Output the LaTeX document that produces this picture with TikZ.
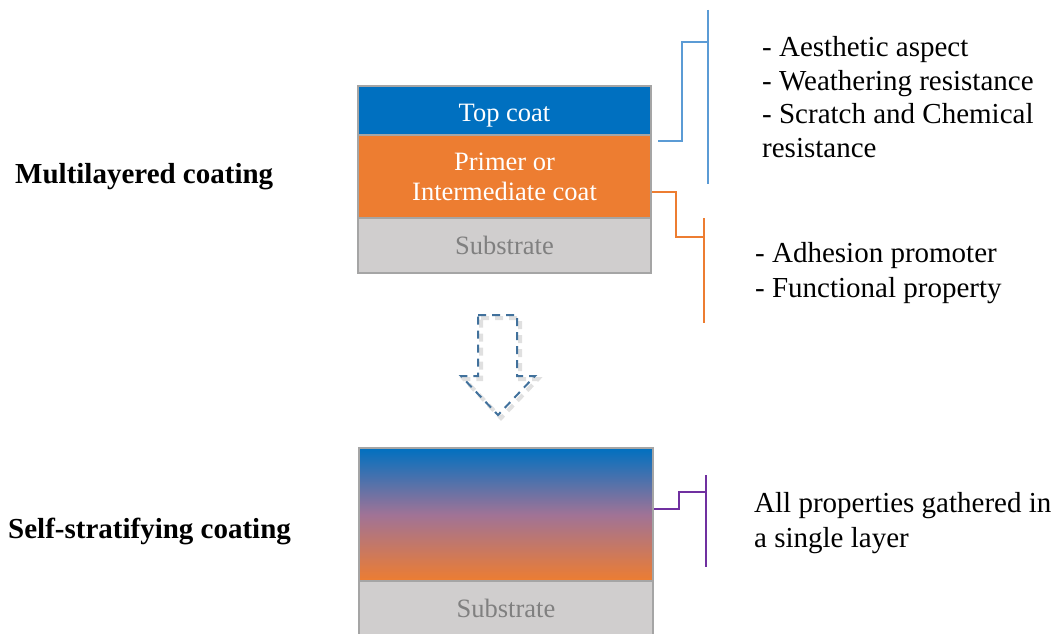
\documentclass[tikz,border=0pt]{standalone}
\usepackage{fontspec}
\IfFontExistsTF{LiberationSerif-Regular.ttf}
  {\setmainfont{LiberationSerif-Regular.ttf}[BoldFont=LiberationSerif-Bold.ttf]}
  {\setmainfont{Liberation Serif}}
\definecolor{topblue}{HTML}{0070C0}
\definecolor{primerorange}{HTML}{ED7D31}
\definecolor{subgray}{HTML}{D0CECE}
\definecolor{subtext}{HTML}{808080}
\definecolor{bordergray}{HTML}{A5A5A5}
\definecolor{bracketblue}{HTML}{5B9BD5}
\definecolor{bracketpurple}{HTML}{7030A0}
\definecolor{arrowblue}{HTML}{41719C}
\definecolor{midmauve}{RGB}{160,115,150}
\begin{document}
\begin{tikzpicture}[x=1pt,y=-1pt,
  layer/.style={draw=bordergray, line width=2pt, minimum width=293pt, inner sep=0pt,
    anchor=north west, text=white, align=center, font=\fontsize{26.5}{30}\selectfont},
  sublayer/.style={layer, fill=subgray, text=subtext},
  title/.style={font=\fontsize{29}{34}\selectfont\bfseries, anchor=base west, inner sep=0pt},
  note/.style={align=left, anchor=base west, inner sep=0pt},
  bracket/.style={line width=2.2pt},
  flowarrow/.style={draw=arrowblue, line width=2pt, dash pattern=on 8pt off 6pt, line join=miter},
  arrowshadow/.style={draw=black, opacity=0.12, line width=4pt, dash pattern=on 8pt off 6pt}]
\useasboundingbox (0,0) rectangle (1060,634);
\clip (0,0) rectangle (1060,634);
\fill[white] (0,0) rectangle (1060,634);

% ---- multilayered stack ----
\node[layer, fill=topblue, minimum height=49pt] (top) at (357,85) {};
\node[text=white, font=\fontsize{26.5}{30}\selectfont, anchor=base, inner sep=0pt] (toplabel) at (top.center |- 0,121) {Top coat};
\node[layer, fill=primerorange, minimum height=83pt] (primer) at (357,134) {Primer or\\Intermediate coat};
\node[sublayer, minimum height=55pt] (sub1) at (357,217) {};
\node[text=subtext, font=\fontsize{26.5}{30}\selectfont, anchor=base, inner sep=0pt] (sub1label) at (sub1.center |- 0,254) {Substrate};

% ---- self-stratifying stack ----
\node[layer, top color=topblue, bottom color=primerorange, middle color=midmauve,
      minimum height=133pt, minimum width=294pt] (grad) at (358,447) {};
\node[sublayer, minimum height=55pt, minimum width=294pt] (sub2) at (358,580) {Substrate};

% ---- titles ----
\node[title] (t1) at (15,183) {Multilayered coating};
\node[title] (t2) at (8,538) {Self-stratifying coating};

% ---- notes (anchored at the baseline of the last line) ----
\node[note, font=\fontsize{29}{33.5}\selectfont] (n1) at (762,157) {- Aesthetic aspect\\- Weathering resistance\\- Scratch and Chemical\\resistance};
\node[note, font=\fontsize{29}{35}\selectfont] (n2) at (755,297) {- Adhesion promoter\\- Functional property};
\node[note, font=\fontsize{29}{35}\selectfont] (n3) at (754,547) {All properties gathered in\\a single layer};

% ---- brackets ----
\coordinate (b1s) at (658,141);
\coordinate (b1t) at (708,10);
\coordinate (b1b) at (708,184);
\draw[bracket, bracketblue] (b1s) -- (682,141) -- (682,42) -- (708,42);
\draw[bracket, bracketblue] (b1t) -- (b1b);

\coordinate (b2t) at (704,218);
\coordinate (b2b) at (704,323);
\draw[bracket, primerorange] (primer.east |- 0,192) -- (676,192) -- (676,237) -- (704,237);
\draw[bracket, primerorange] (b2t) -- (b2b);

\coordinate (b3t) at (706,475);
\coordinate (b3b) at (706,567);
\draw[bracket, bracketpurple] (grad.east |- 0,509) -- (679,509) -- (679,492) -- (706,492);
\draw[bracket, bracketpurple] (b3t) -- (b3b);

% ---- dashed down arrow ----
\path[arrowshadow] (481,318) -- (520,318) -- (520,379) -- (538,379) -- (501,418) -- (464,379) -- (481,379) -- cycle;
\path[flowarrow] (478,315) -- (517,315) -- (517,376) -- (535,376) -- (498,415) -- (461,376) -- (478,376) -- cycle;
\end{tikzpicture}
\end{document}
